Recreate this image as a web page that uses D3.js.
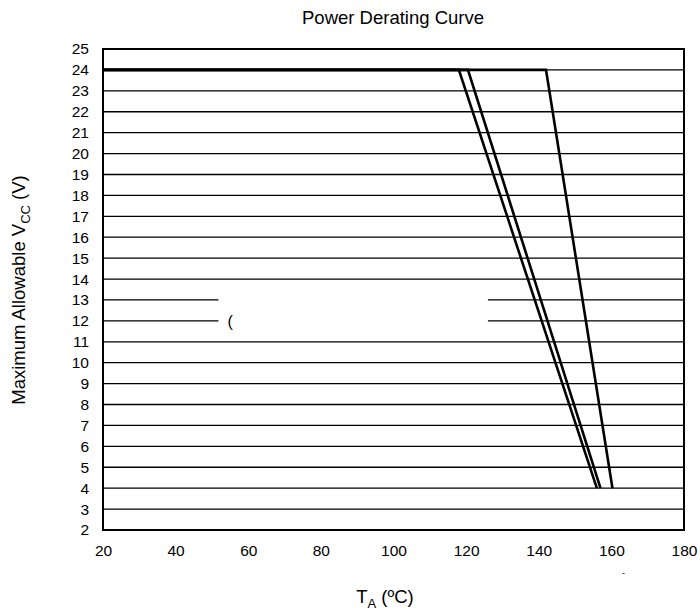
<!DOCTYPE html>
<html><head><meta charset="utf-8">
<script src="https://cdn.jsdelivr.net/npm/d3@7"></script>
<style>body{margin:0;background:#fff;} svg{display:block;font-family:"Liberation Sans",Arial,sans-serif;}</style>
</head><body>
<script>
const xTicks = [20,40,60,80,100,120,140,160,180];
const yTicks = [2,3,4,5,6,7,8,9,10,11,12,13,14,15,16,17,18,19,20,21,22,23,24,25];
const curveA = [[20,24],[118,24],[156,4]];
const curveB = [[20,24],[120.5,24],[157,4]];
const curveC = [[20,24],[142,24],[160.3,4]];
const curves = [curveA, curveB, curveC];

const W=700,H=613, m={l:103,r:16,t:49,b:83};
const svg=d3.select("body").append("svg").attr("width",W).attr("height",H);
const x=d3.scaleLinear().domain([20,180]).range([m.l,W-m.r]);
const y=d3.scaleLinear().domain([2,25]).range([H-m.b,m.t]);

// grid
svg.append("g").selectAll("line").data(yTicks.filter(v=>v>2&&v<25)).join("line")
  .attr("x1",x(20)).attr("x2",x(180)).attr("y1",d=>y(d)).attr("y2",d=>y(d))
  .attr("stroke","#000").attr("stroke-width",1.3);

// white box
svg.append("rect").attr("x",x(51.8)).attr("y",y(13.7)).attr("width",x(126)-x(51.8)).attr("height",y(11.3)-y(13.7)).attr("fill","#fff");
svg.append("text").attr("x",x(54.3)).attr("y",y(11.72)).attr("font-size",16).text("(");

// border
svg.append("rect").attr("x",x(20)).attr("y",y(25)).attr("width",x(180)-x(20)).attr("height",y(2)-y(25))
  .attr("fill","none").attr("stroke","#000").attr("stroke-width",2);

// curves
const line=d3.line().x(d=>x(d[0])).y(d=>y(d[1]));
svg.append("g").selectAll("path").data(curves).join("path").attr("d",line)
  .attr("fill","none").attr("stroke","#000").attr("stroke-width",2.6);

// axes labels
const yAxis=d3.axisLeft(y).tickValues(yTicks).tickSize(0).tickPadding(14);
const ga=svg.append("g").attr("transform",`translate(${x(20)},0)`).call(yAxis);
ga.select(".domain").remove();
ga.selectAll("text").attr("font-size",15.5).attr("font-family","Liberation Sans, Arial, sans-serif").attr("fill","#000");
const xAxis=d3.axisBottom(x).tickValues(xTicks).tickSize(0).tickPadding(15);
const gx=svg.append("g").attr("transform",`translate(0,${y(2)})`).call(xAxis);
gx.select(".domain").remove();
gx.selectAll("text").attr("font-size",15.5).attr("font-family","Liberation Sans, Arial, sans-serif").attr("fill","#000");

// title
svg.append("text").attr("x",393).attr("y",24).attr("text-anchor","middle").attr("font-size",18.5).text("Power Derating Curve");

// x label
const xl=svg.append("text").attr("x",385).attr("y",603).attr("text-anchor","middle").attr("font-size",18.5);
xl.append("tspan").text("T");
xl.append("tspan").attr("font-size",13).attr("dy",5).text("A");
xl.append("tspan").attr("dy",-5).text(" (ºC)");

// y label
const yl=svg.append("text").attr("transform","translate(25,290) rotate(-90)").attr("text-anchor","middle").attr("font-size",18.5);
yl.append("tspan").text("Maximum Allowable V");
yl.append("tspan").attr("font-size",13).attr("dy",5).text("CC");
yl.append("tspan").attr("dy",-5).text(" (V)");

// stray mark
svg.append("text").attr("x",622).attr("y",576).attr("font-size",9).text("-");
</script>
</body></html>
